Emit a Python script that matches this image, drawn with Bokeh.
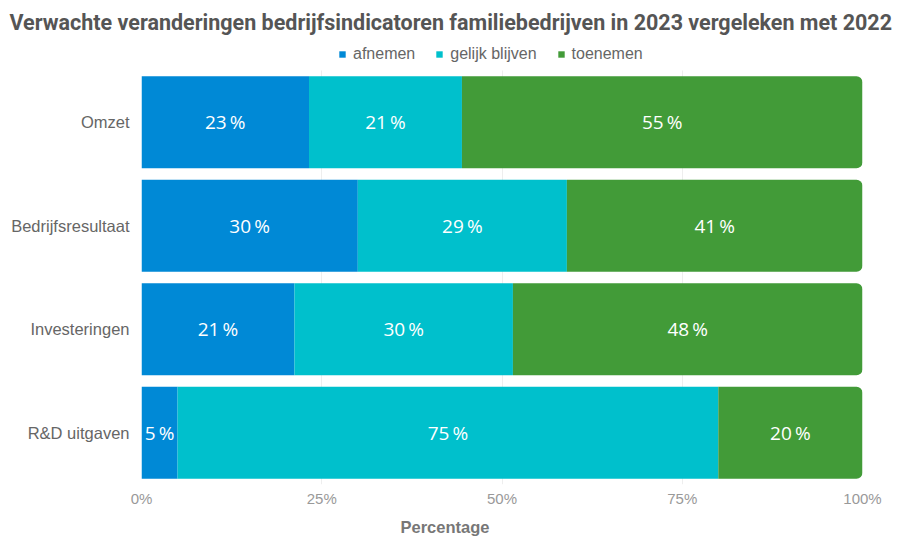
from bokeh.plotting import figure
from bokeh.models import ColumnDataSource, Legend, LegendItem, LabelSet, NumeralTickFormatter, Range1d, FixedTicker, Title
from bokeh.core.properties import value
from bokeh.embed import file_html
from bokeh.resources import INLINE

categories = ["Omzet", "Bedrijfsresultaat", "Investeringen", "R&D uitgaven"]
series_names = ["afnemen", "gelijk blijven", "toenemen"]
afnemen = [23, 30, 21, 5]
gelijk_blijven = [21, 29, 30, 75]
toenemen = [55, 41, 48, 20]
tick_values = [0, 0.25, 0.5, 0.75, 1.0]
colors = ["#0089d6", "#00c0cc", "#429b38"]

series = [afnemen, gelijk_blijven, toenemen]
totals = [sum(v) for v in zip(*series)]
n = len(categories)
ypos = [n - 1 - i for i in range(n)]

data = {"cat": categories, "y": ypos}
starts = [0.0] * n
for name, vals in zip(series_names, series):
    fr = [v / t for v, t in zip(vals, totals)]
    data[name + "_l"] = list(starts)
    data[name + "_r"] = [s + f for s, f in zip(starts, fr)]
    data[name + "_m"] = [s + f / 2 for s, f in zip(starts, fr)]
    data[name + "_t"] = [f"{v}\u2009%" for v in vals]
    starts = data[name + "_r"]
src = ColumnDataSource(data)

FRAME_H = 443
BAND = 414 / n
p = figure(frame_width=721, frame_height=FRAME_H, output_backend="svg", toolbar_location=None,
           y_range=Range1d(-0.5, -0.5 + FRAME_H / BAND),
           x_range=Range1d(0, 1),
           min_border_left=141, min_border_right=38, min_border_top=41, min_border_bottom=60,
           title="Verwachte veranderingen bedrijfsindicatoren familiebedrijven in 2023 vergeleken  met 2022")
p.title.align = "left"
p.title.offset = -132
p.title.standoff = 14
p.title.text_font = "Roboto"
p.title.text_font_size = "21.5px"
p.title.text_font_style = "bold"
p.title.text_color = "#555555"
p.outline_line_color = None
p.background_fill_color = "white"

renderers = []
for i, name in enumerate(series_names):
    kw = {}
    if i == len(series_names) - 1:
        kw["border_radius"] = (0, 6, 6, 0)
    r = p.hbar(y="y", left=name + "_l", right=name + "_r", height=0.89, source=src,
               fill_color=colors[i], line_color=None, **kw)
    renderers.append(r)
    labels = LabelSet(x=name + "_m", y="y", text=name + "_t", source=src,
                      text_align="center", text_baseline="middle",
                      text_color="white", text_font_size="19px", text_font=value("Open Sans"))
    p.add_layout(labels)

legend = Legend(items=[LegendItem(label=s, renderers=[r]) for s, r in zip(series_names, renderers)],
                orientation="horizontal", location=(197, 421),
                label_text_font_size="16px", label_text_color="#666666", label_text_font="Liberation Sans",
                glyph_width=8, glyph_height=8, spacing=20, label_standoff=7,
                border_line_color=None, background_fill_alpha=0, padding=2, margin=0)
p.add_layout(legend, "center")

p.xaxis.ticker = tick_values
p.xaxis.formatter = NumeralTickFormatter(format="0%")
p.xaxis.axis_line_color = None
p.xaxis.major_tick_line_color = None
p.xaxis.major_tick_out = 0
p.xaxis.minor_tick_line_color = None
p.xaxis.minor_tick_out = 0
p.xaxis.major_label_text_color = "#999999"
p.xaxis.major_label_text_font = "Liberation Sans"
p.xaxis.major_label_text_font_size = "15px"
p.xaxis.major_label_standoff = 5

x_title = Title(text="Percentage", align="left", offset=259, standoff=13,
                text_font="Liberation Sans", text_font_style="bold",
                text_font_size="16.5px", text_color="#777777")
p.add_layout(x_title, "below")

p.yaxis.ticker = FixedTicker(ticks=ypos)
p.yaxis.major_label_overrides = {y: c for y, c in zip(ypos, categories)}
p.yaxis.axis_line_color = None
p.yaxis.major_tick_line_color = None
p.yaxis.major_tick_out = 0
p.yaxis.minor_tick_line_color = None
p.yaxis.minor_tick_out = 0
p.yaxis.major_label_text_color = "#666666"
p.yaxis.major_label_text_font = "Liberation Sans"
p.yaxis.major_label_text_font_size = "16.5px"
p.yaxis.major_label_standoff = 12

p.xgrid.grid_line_color = "#eeeeee"
p.xgrid.ticker = tick_values
try:
    p.xgrid[0].cross_bounds = (-0.5, n - 0.5)
except Exception:
    pass
p.ygrid.grid_line_color = None

open("out.html", "w").write(file_html(p, INLINE))
